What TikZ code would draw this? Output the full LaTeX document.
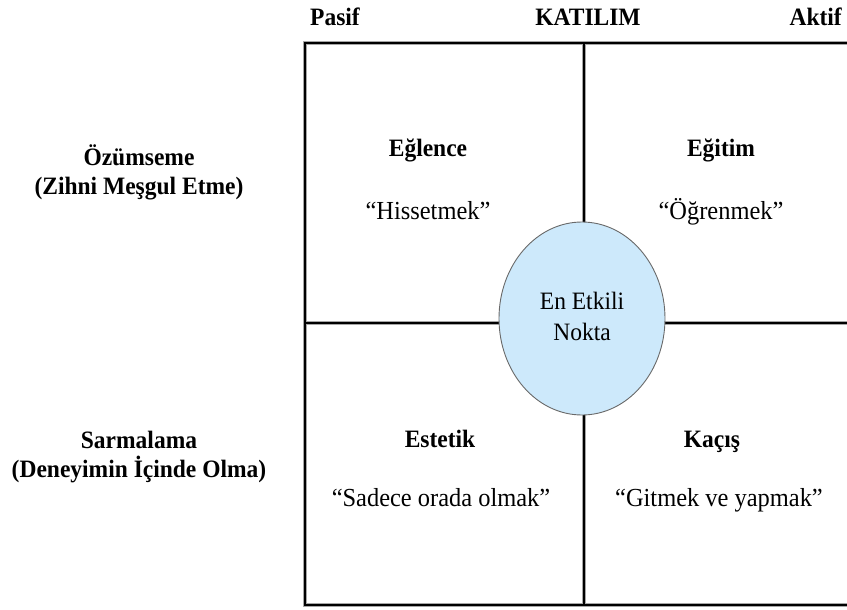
\documentclass[tikz,border=0pt]{standalone}
\usepackage{fontspec}
\setmainfont{Liberation Serif}[FakeStretch=0.94]
\usetikzlibrary{shapes.geometric}
\definecolor{corefill}{RGB}{205,233,251}
\definecolor{coreedge}{RGB}{105,105,105}
\tikzset{
  gridline/.style={line width=2pt, black, line cap=rect},
  gridhalo/.style={line width=3.4pt, black!35, line cap=rect},
  head/.style={anchor=base, inner sep=0pt, font=\fontsize{25}{31}\selectfont\bfseries},
  plain/.style={anchor=base, inner sep=0pt, font=\fontsize{25}{31}\selectfont},
  quote/.style={anchor=base, inner sep=0pt, font=\fontsize{26}{31}\selectfont},
  core/.style={ellipse, draw=coreedge, line width=0.9pt, fill=corefill,
               minimum width=166pt, minimum height=193pt, inner sep=0pt}
}
\begin{document}
\begin{tikzpicture}[x=1pt, y=-1pt]
\useasboundingbox (0,0) rectangle (847,610);
% frame corners and cross ends
\coordinate (tr) at (860,43);
\coordinate (tl) at (305,43);
\coordinate (bl) at (305,605);
\coordinate (br) at (860,605);
\coordinate (vt) at (584,43);
\coordinate (vb) at (584,605);
\coordinate (hl) at (305,323);
\coordinate (hr) at (860,323);
% the four-field frame
\foreach \s in {gridhalo, gridline}{
  \draw[\s] (tr) -- (tl) -- (bl) -- (br);
  \draw[\s] (vt) -- (vb);
  \draw[\s] (hl) -- (hr);
}
% centre ellipse
\node[core] (core) at (582,318.5) {};
\node[plain] (core1) at (582,309) {En Etkili};
\node[plain] (core2) at (582,340) {Nokta};
% participation axis
\node[head, anchor=base west] (pasif) at (310,26) {Pasif};
\node[head] (katilim) at (588,26) {KATILIM};
\node[head, anchor=base east] (aktif) at (842,26) {Aktif};
% connection axis
\node[head] (ozum1) at (139,165) {Özümseme};
\node[head] (ozum2) at (139,194) {(Zihni Meşgul Etme)};
\node[head] (sarm1) at (139,448) {Sarmalama};
\node[head] (sarm2) at (139,477) {(Deneyimin İçinde Olma)};
% quadrants
\node[head] (eglence) at (428,157) {Eğlence};
\node[quote] (hisset) at (428,219) {“Hissetmek”};
\node[head] (egitim) at (721,157) {Eğitim};
\node[quote] (ogren) at (721,219) {“Öğrenmek”};
\node[head] (estetik) at (440,447) {Estetik};
\node[quote] (sadece) at (441,506) {“Sadece orada olmak”};
\node[head] (kacis) at (712,447) {Kaçış};
\node[quote] (gitmek) at (719,506) {“Gitmek ve yapmak”};
\end{tikzpicture}
\end{document}
